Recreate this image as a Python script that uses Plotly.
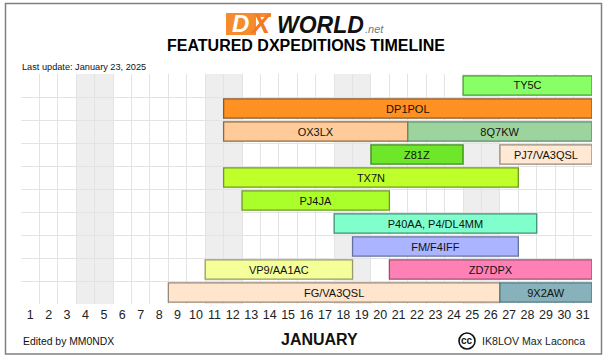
import plotly.graph_objects as go

rows = ["TY5C", "DP1POL", "OX3LX", "Z81Z", "TX7N", "PJ4JA", "P40AA", "FM", "VP9", "FG"]
labels = ["TY5C", "DP1POL", "OX3LX", "8Q7KW", "Z81Z", "PJ7/VA3QSL", "TX7N", "PJ4JA",
          "P40AA, P4/DL4MM", "FM/F4IFF", "VP9/AA1AC", "ZD7DPX", "FG/VA3QSL", "9X2AW"]
bar_rows = ["TY5C", "DP1POL", "OX3LX", "OX3LX", "Z81Z", "Z81Z", "TX7N", "PJ4JA",
            "P40AA", "FM", "VP9", "VP9", "FG", "FG"]
starts = [24.5, 11.5, 11.5, 21.5, 19.5, 26.5, 11.5, 12.5, 17.5, 18.5, 10.5, 20.5, 8.5, 26.5]
ends = [31.5, 31.5, 21.5, 31.5, 24.5, 31.5, 27.5, 20.5, 28.5, 27.5, 18.5, 31.5, 26.5, 31.5]
colors = ["#88ff66", "#ff9122", "#ffcc99", "#9dd49d", "#6ee62a", "#ffe8d4", "#bfff2a", "#aaff2a",
          "#80ffcc", "#aab4ff", "#f4ff99", "#ff80b4", "#ffe5cc", "#88b2bb"]
borders = ["#4d9933", "#8c5a28", "#8c6a45", "#5f8a68", "#3f8a1a", "#998877", "#6f9920", "#6f9920",
           "#3f8f75", "#6670a0", "#99996a", "#995070", "#998877", "#4f7780"]
days = list(range(1, 32))
weekend_days = [4, 5, 11, 12, 18, 19, 25, 26]

fig = go.Figure(go.Bar(
    y=bar_rows, base=starts, x=[e - s for s, e in zip(starts, ends)],
    orientation="h", width=0.83, text=labels, textposition="inside", insidetextanchor="middle",
    textangle=0, constraintext="none",
    textfont=dict(family="Liberation Sans", size=11, color="#111111"),
    marker=dict(color=colors, line=dict(color=borders, width=1.3)),
    hoverinfo="skip", showlegend=False,
))
for d in weekend_days:
    fig.add_shape(type="rect", xref="x", yref="paper", x0=d - 0.5, x1=d + 0.5, y0=0, y1=1,
                  fillcolor="#eeeeee", line_width=0, layer="below")

GRID = "#e3e3e3"
LEFT, WIDTH = 21, 571
fig.update_layout(
    width=612, height=360, autosize=False, bargap=0.17, barmode="overlay",
    paper_bgcolor="white", plot_bgcolor="white",
    margin=dict(l=LEFT, r=612 - LEFT - WIDTH, t=74, b=56),
    font=dict(family="Liberation Sans", color="#111111"),
    xaxis=dict(range=[0.5, 31.5], tickmode="array", tickvals=days, ticktext=[str(d) for d in days],
               showgrid=False, zeroline=False, showline=False, ticks="", ticklen=0,
               ticklabelstandoff=1, tickfont=dict(size=12.5, color="#222222"),
               minor=dict(tickmode="array", tickvals=[d + 0.5 for d in [0] + days], showgrid=True,
                          gridcolor=GRID, gridwidth=1, ticks="")),
    yaxis=dict(categoryorder="array", categoryarray=rows[::-1], showticklabels=False, ticks="",
               showgrid=False, zeroline=False, range=[-0.5, 9.5],
               minor=dict(tickmode="array", tickvals=[i - 0.5 for i in range(11)], showgrid=True,
                          gridcolor=GRID, gridwidth=1, ticks="")),
)

def paper(x, y):
    return (x - LEFT) / WIDTH, (304 - y) / 230

def note(x, y, text, size, color="#111111", anchor="left", bold=False, italic=False):
    t = text
    if bold: t = f"<b>{t}</b>"
    if italic: t = f"<i>{t}</i>"
    px, py = paper(x, y)
    fig.add_annotation(xref="paper", yref="paper", x=px, y=py, text=t, showarrow=False,
                       xanchor=anchor, yanchor="middle", borderpad=0,
                       font=dict(family="Liberation Sans", size=size, color=color))

def box(kind, a, b, c, d, line=None, fill="rgba(0,0,0,0)"):
    x0, y0 = paper(a, b); x1, y1 = paper(c, d)
    fig.add_shape(type=kind, xref="paper", yref="paper", x0=x0, y0=y0, x1=x1, y1=y1,
                  line=line or dict(width=0), fillcolor=fill, layer="above")

note(306, 45, "FEATURED DXPEDITIONS TIMELINE", 16, "#000000", "center", bold=True)
note(21, 66.5, "Last update: January 23, 2025", 9.2)
note(21.5, 341, "Edited by MM0NDX", 10.4)
note(319, 339, "JANUARY", 16, "#111111", "center", bold=True)
note(481, 341, "IK8LOV Max Laconca", 10.6, "#222222")

# logo
box("rect", 226, 13, 256, 35, fill="#f58a2e")
box("rect", 256, 13, 271, 17, fill="#f58a2e")
note(241, 24, "D", 24, "#ffffff", "center", bold=True, italic=True)
note(261, 24, "X", 27, "#f4791f", "center", bold=True, italic=True)
note(320, 24.5, "WORLD", 23, "#111111", "center", bold=True, italic=True)
note(364, 29, ".net", 11, "#777777", "left", italic=True)

# frame and cc badge
box("rect", 5.5, 3.5, 601.5, 354, line=dict(color="#808080", width=1.5))
box("circle", 459, 333, 475, 349, line=dict(color="#111111", width=1.6))
note(467, 340.5, "cc", 10, "#111111", "center", bold=True)

fig.write_html("out.html", config=dict(displayModeBar=False),
               post_script="document.body.style.margin='0';")
